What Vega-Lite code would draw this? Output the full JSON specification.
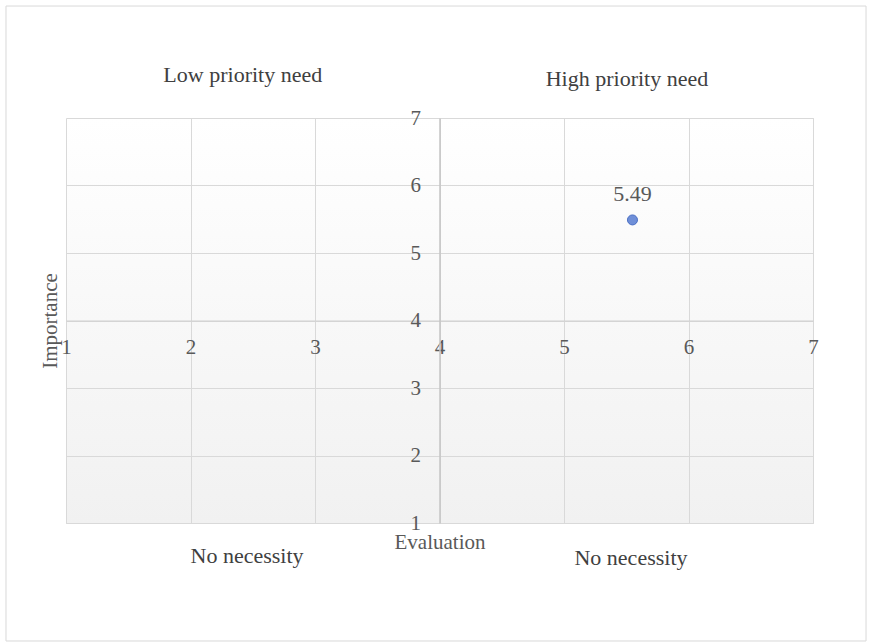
{
  "$schema": "https://vega.github.io/schema/vega-lite/v6.json",
  "width": 747,
  "height": 405,
  "autosize": {"type": "none"},
  "padding": {"left": 66, "top": 118, "right": 57, "bottom": 121},
  "background": "white",
  "config": {
    "font": "Liberation Serif",
    "view": {"stroke": "#d9d9d9", "strokeWidth": 1}
  },
  "datasets": {
    "points": [{"x": 5.55, "y": 5.49, "label": "5.49"}],
    "quadrants": [
      {"x": 2.42, "y": 7.637, "text": "Low priority need"},
      {"x": 5.506, "y": 7.578, "text": "High priority need"},
      {"x": 2.454, "y": 0.511, "text": "No necessity"},
      {"x": 5.538, "y": 0.481, "text": "No necessity"}
    ],
    "plotarea": [{"x": 1, "x2": 7, "y": 1, "y2": 7}],
    "frame": [{"x": 0.518, "x2": 7.426, "y": -0.748, "y2": 8.659}]
  },
  "encoding": {
    "x": {
      "field": "x", "type": "quantitative",
      "scale": {"domain": [1, 7], "nice": false, "zero": false},
      "axis": {
        "title": "Evaluation",
        "values": [1, 2, 3, 4, 5, 6, 7],
        "offset": -202.5,
        "zindex": 1,
        "grid": true,
        "gridColor": "#d9d9d9",
        "domainColor": "#d0d0d0",
        "domainWidth": 1,
        "ticks": false,
        "labelFont": "Liberation Serif",
        "labelFontSize": 21,
        "labelColor": "#595959",
        "labelBaseline": "middle",
        "labelPadding": 27,
        "labelFlush": false,
        "labelOverlap": false,
        "titleFont": "Liberation Serif",
        "titleFontSize": 21,
        "titleFontWeight": "normal",
        "titleColor": "#595959",
        "titleBaseline": "middle",
        "titleY": 222
      }
    },
    "y": {
      "field": "y", "type": "quantitative",
      "scale": {"domain": [1, 7], "nice": false, "zero": false},
      "axis": {
        "title": "Importance",
        "values": [1, 2, 3, 4, 5, 6, 7],
        "offset": -373.5,
        "zindex": 1,
        "grid": true,
        "gridColor": "#d9d9d9",
        "domainColor": "#c4c4c4",
        "domainWidth": 1.5,
        "ticks": false,
        "labelFont": "Liberation Serif",
        "labelFontSize": 21,
        "labelColor": "#595959",
        "labelPadding": 19,
        "labelFlush": false,
        "labelOverlap": false,
        "titleFont": "Liberation Serif",
        "titleFontSize": 21,
        "titleFontWeight": "normal",
        "titleColor": "#595959",
        "titleBaseline": "middle",
        "titleAngle": -90,
        "titleX": -389,
        "titleY": 202.5
      }
    }
  },
  "layer": [
    {
      "data": {"name": "frame"},
      "mark": {"type": "rect", "fill": null, "stroke": "#d9d9d9", "strokeWidth": 1},
      "encoding": {"x2": {"field": "x2"}, "y2": {"field": "y2"}}
    },
    {
      "data": {"name": "plotarea"},
      "mark": {
        "type": "rect",
        "color": {
          "gradient": "linear",
          "x1": 0, "y1": 0, "x2": 0, "y2": 1,
          "stops": [
            {"offset": 0, "color": "#ffffff"},
            {"offset": 1, "color": "#f1f1f1"}
          ]
        }
      },
      "encoding": {"x2": {"field": "x2"}, "y2": {"field": "y2"}}
    },
    {
      "data": {"name": "points"},
      "mark": {"type": "point", "filled": true, "size": 100, "fill": "#6f8fd8", "stroke": "#4a6fc4", "strokeWidth": 1, "opacity": 1}
    },
    {
      "data": {"name": "points"},
      "mark": {"type": "text", "font": "Liberation Serif", "fontSize": 22, "color": "#595959", "dy": -26, "baseline": "middle"},
      "encoding": {"text": {"field": "label"}}
    },
    {
      "data": {"name": "quadrants"},
      "mark": {"type": "text", "font": "Liberation Serif", "fontSize": 22, "color": "#404040", "baseline": "middle"},
      "encoding": {"text": {"field": "text"}}
    }
  ]
}
